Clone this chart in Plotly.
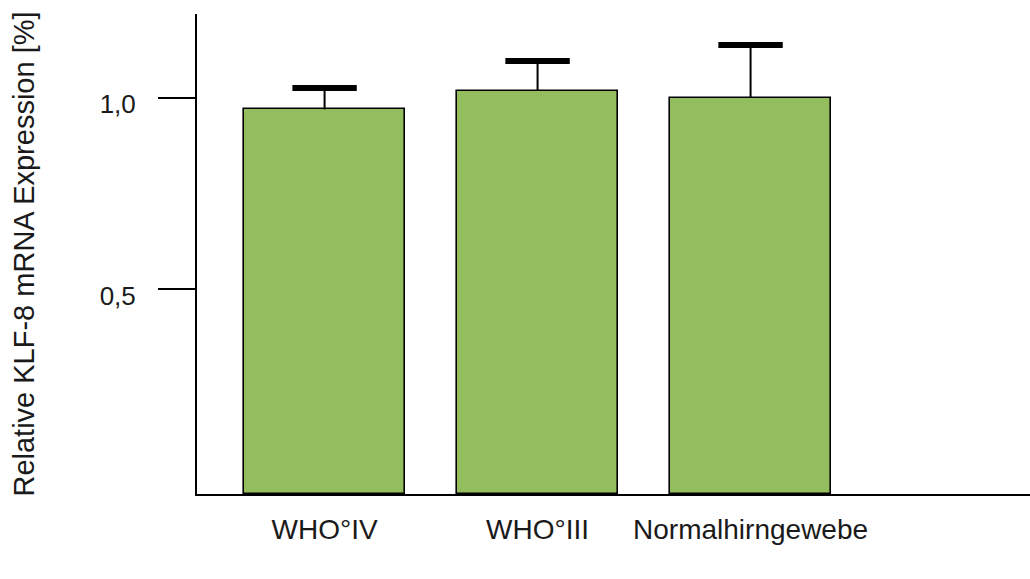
import plotly.graph_objects as go

categories = ["WHO°IV", "WHO°III", "Normalhirngewebe"]
values = [0.97, 1.018, 1.0]
errors = [0.056, 0.078, 0.138]
ytick_vals = [0.5, 1.0]
ytick_text = ["0,5", "1,0"]

y_min = -0.034
y_max = 1.219
bar_color = "#94BD5E"

fig = go.Figure()

fig.add_trace(go.Bar(
    x=categories,
    y=[v - y_min for v in values],
    base=y_min,
    width=0.756,
    marker=dict(color=bar_color, line=dict(color="black", width=1.6)),
    error_y=dict(type="data", array=errors, symmetric=False, arrayminus=[0]*3,
                 color="black", thickness=2, width=0),
    showlegend=False,
))

fig.add_trace(go.Scatter(
    x=categories,
    y=[v + e for v, e in zip(values, errors)],
    mode="markers",
    marker=dict(symbol="line-ew", size=46, color="black",
                line=dict(color="black", width=6)),
    showlegend=False,
    hoverinfo="skip",
))

fig.update_layout(
    width=1030, height=579,
    margin=dict(l=197, r=0, t=14, b=85),
    paper_bgcolor="white", plot_bgcolor="white",
    font=dict(family="Liberation Sans, Arial, sans-serif", size=24, color="#1a1a1a"),
    xaxis=dict(range=[-0.599, 3.312], showgrid=False, zeroline=False,
               showline=True, linecolor="black", linewidth=2,
               ticks="", ticklabelstandoff=9, tickfont=dict(size=28)),
    yaxis=dict(range=[y_min, y_max], showgrid=False, zeroline=False,
               showline=True, linecolor="black", linewidth=2,
               ticks="outside", ticklen=37, tickwidth=2, tickcolor="black",
               tickvals=ytick_vals, ticktext=ytick_text, ticklabelstandoff=17,
               ticklabelshift=6, tickfont=dict(size=26),
               title=dict(text="Relative KLF-8 mRNA Expression [%]", standoff=56,
                          font=dict(size=29))),
    bargap=0,
)

fig.write_html("out.html")
